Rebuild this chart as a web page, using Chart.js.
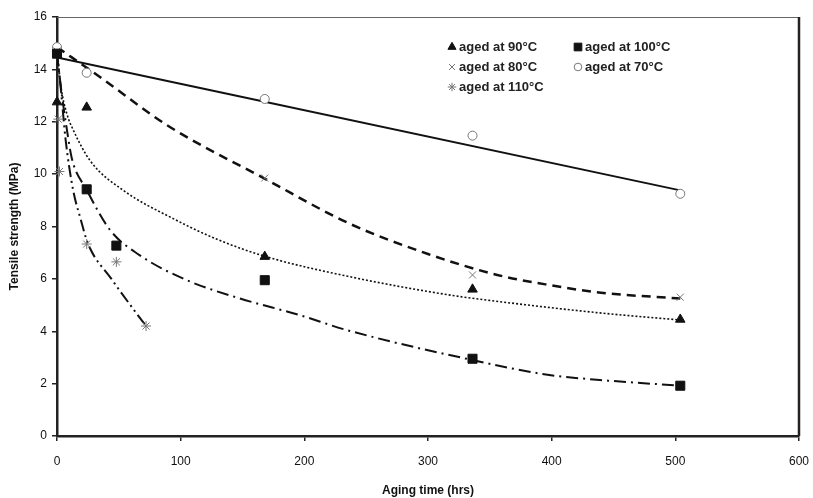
<!DOCTYPE html>
<html>
<head>
<meta charset="utf-8">
<script src="https://cdn.jsdelivr.net/npm/chart.js@4.4.1/dist/chart.umd.min.js"></script>
<style>
  html, body { margin: 0; padding: 0; background: #fff; }
  #wrap { width: 813px; height: 498px; }
</style>
</head>
<body>
<div id="wrap"><canvas id="tensileChart"></canvas></div>
<script>
// measured points (hrs, MPa)
const t90 = [0, 24, 168, 336, 504];
const s90 = [12.75, 12.55, 6.85, 5.6, 4.45];
const t100 = [0, 24, 48, 168, 336, 504];
const s100 = [14.6, 9.42, 7.27, 5.95, 2.95, 1.92];
const t80 = [0, 168, 336, 504];
const s80 = [14.7, 9.85, 6.15, 5.3];
const t70 = [0, 24, 168, 336, 504];
const s70 = [14.85, 13.87, 12.87, 11.47, 9.25];
const t110 = [0, 1, 2, 24, 48, 72];
const s110 = [14.6, 12.1, 10.1, 7.33, 6.65, 4.2];

// trend curves
const fit70x = [0, 504];
const fit70y = [14.45, 9.38];
const fit80x = [0, 35, 89, 169, 237, 300, 356, 400, 440, 504];
const fit80y = [14.85, 13.7, 11.87, 9.8, 8.1, 6.95, 6.15, 5.75, 5.47, 5.25];
const fit90x = [0, 3, 8, 13, 27, 53, 94, 130, 169, 237, 318, 358, 439, 504];
const fit90y = [14.8, 13.4, 12.3, 11.7, 10.5, 9.4, 8.3, 7.5, 6.85, 6.08, 5.38, 5.13, 4.7, 4.43];
const fit100x = [0, 4, 8, 12, 24, 43, 67, 105, 148, 196, 234, 336, 398, 439, 504];
const fit100y = [14.6, 13.0, 11.7, 10.6, 9.4, 7.86, 6.9, 5.95, 5.25, 4.62, 4.05, 2.9, 2.33, 2.14, 1.92];
const fit110x = [0, 3, 7, 13, 19, 25, 44, 64, 72];
const fit110y = [14.6, 13.3, 11.3, 9.4, 8.3, 7.35, 6.0, 4.7, 4.2];

const xTicks = [0, 100, 200, 300, 400, 500, 600];
const yTicks = [0, 2, 4, 6, 8, 10, 12, 14, 16];

function pts(xs, ys) {
  return xs.map((x, i) => ({ x: x, y: ys[i] }));
}

function markers(label, xs, ys, style, radius, fill, edge) {
  return {
    type: 'scatter',
    label: label,
    data: pts(xs, ys),
    pointStyle: style,
    pointRadius: radius,
    pointHoverRadius: radius,
    backgroundColor: fill,
    borderColor: edge,
    borderWidth: 1,
    clip: false,
    order: 0
  };
}

function trend(xs, ys, dash, width) {
  return {
    type: 'line',
    label: '',
    data: pts(xs, ys),
    borderColor: '#111',
    borderWidth: width,
    borderDash: dash,
    pointRadius: 0,
    fill: false,
    cubicInterpolationMode: 'monotone',
    order: 1
  };
}

const markerSets = [
  markers('aged at 90°C', t90, s90, 'triangle', 5.5, '#111', '#111'),
  markers('aged at 100°C', t100, s100, 'rect', 6.4, '#111', '#111'),
  markers('aged at 80°C', t80, s80, 'crossRot', 5, 'transparent', '#777'),
  markers('aged at 70°C', t70, s70, 'circle', 4.5, '#fff', '#777'),
  markers('aged at 110°C', t110, s110, 'star', 5, 'transparent', '#777')
];

const trendSets = [
  trend(fit70x, fit70y, [], 2),
  trend(fit80x, fit80y, [9, 6], 2.5),
  trend(fit90x, fit90y, [2, 2], 1.6),
  trend(fit100x, fit100y, [12, 5, 2, 5], 2),
  trend(fit110x, fit110y, [12, 4, 2, 4, 2, 4], 2)
];

// legend drawn inside the plot, 2 columns
const insideLegend = {
  id: 'insideLegend',
  afterDraw(chart) {
    const ctx = chart.ctx;
    const a = chart.chartArea;
    const cols = [a.left + 395, a.left + 521];
    const rows = [a.top + 30, a.top + 50, a.top + 70];
    ctx.save();
    ctx.font = 'bold 13px "Liberation Sans", Arial, sans-serif';
    ctx.textBaseline = 'middle';
    markerSets.forEach((ds, i) => {
      const x = cols[i % 2];
      const y = rows[Math.floor(i / 2)];
      ctx.fillStyle = ds.backgroundColor;
      ctx.strokeStyle = ds.borderColor;
      ctx.lineWidth = 1;
      Chart.helpers.drawPoint(ctx, { pointStyle: ds.pointStyle, radius: ds.pointRadius * 0.85, borderWidth: 1 }, x, y);
      ctx.fillStyle = '#222';
      ctx.fillText(ds.label, x + 7, y);
    });
    ctx.restore();
  }
};

const plotFrame = {
  id: 'plotFrame',
  afterDraw(chart) {
    const ctx = chart.ctx;
    const a = chart.chartArea;
    ctx.save();
    ctx.strokeStyle = '#666';
    ctx.lineWidth = 1;
    ctx.beginPath();
    ctx.moveTo(a.left, a.top + 0.5);
    ctx.lineTo(a.right, a.top + 0.5);
    ctx.stroke();
    ctx.strokeStyle = '#222';
    ctx.lineWidth = 2.5;
    ctx.beginPath();
    ctx.moveTo(a.right, a.top);
    ctx.lineTo(a.right, a.bottom);
    ctx.stroke();
    ctx.restore();
  }
};

const ctx = document.getElementById('tensileChart').getContext('2d');
new Chart(ctx, {
  data: { datasets: trendSets.concat(markerSets) },
  options: {
    responsive: true,
    maintainAspectRatio: false,
    animation: false,
    layout: { padding: { top: 17, right: 14, left: 0, bottom: 0 } },
    plugins: {
      legend: { display: false },
      tooltip: { enabled: false }
    },
    scales: {
      x: {
        type: 'linear',
        min: 0,
        max: 600,
        afterBuildTicks: s => { s.ticks = xTicks.map(v => ({ value: v })); },
        afterFit: s => { s.height = 62; s.paddingLeft = 0; s.paddingRight = 0; },
        grid: { display: true, drawOnChartArea: false, drawTicks: true, tickLength: 5, color: '#222', lineWidth: 1.5 },
        border: { display: true, color: '#222', width: 2.5 },
        ticks: { color: '#111', padding: 13, font: { family: '"Liberation Sans", Arial', size: 12 } },
        title: {
          display: true,
          text: 'Aging time (hrs)',
          color: '#111',
          padding: { top: 0, bottom: 0 },
          font: { family: '"Liberation Sans", Arial', size: 12, weight: 'bold' }
        }
      },
      y: {
        type: 'linear',
        min: 0,
        max: 16,
        afterBuildTicks: s => { s.ticks = yTicks.map(v => ({ value: v })); },
        afterFit: s => { s.width = 57; s.paddingTop = 0; s.paddingBottom = 0; },
        grid: { display: true, drawOnChartArea: false, drawTicks: true, tickLength: 5, color: '#222', lineWidth: 1.5 },
        border: { display: true, color: '#222', width: 2.5 },
        ticks: { color: '#111', padding: 5, font: { family: '"Liberation Sans", Arial', size: 12 } },
        title: {
          display: true,
          text: 'Tensile strength (MPa)',
          color: '#111',
          padding: { top: 7, bottom: 0 },
          font: { family: '"Liberation Sans", Arial', size: 12, weight: 'bold' }
        }
      }
    }
  },
  plugins: [insideLegend, plotFrame]
});
</script>
</body>
</html>
